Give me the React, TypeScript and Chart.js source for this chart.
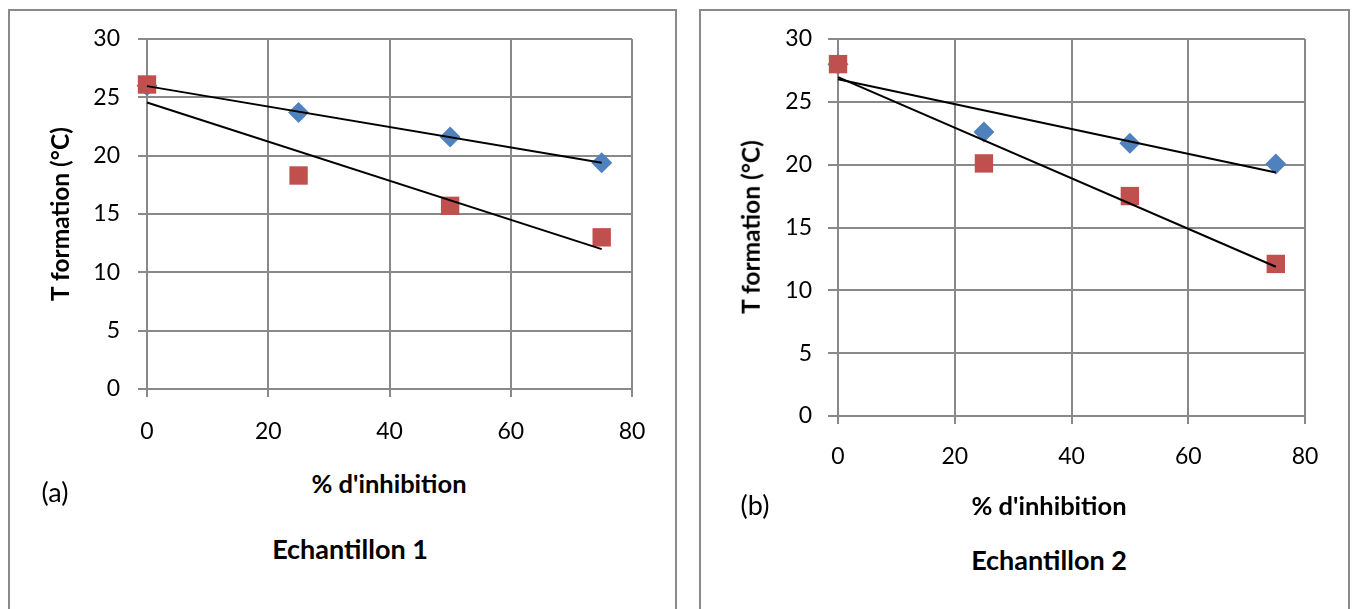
import React, { useEffect, useRef } from "react";
import { Chart, registerables } from "chart.js";

Chart.register(...registerables);

const X_VALUES = [0, 25, 50, 75];
const E1_BLUE = [26.0, 23.7, 21.6, 19.4];
const E1_RED = [26.1, 18.3, 15.7, 13.0];
const E2_BLUE = [28.0, 22.6, 21.7, 20.05];
const E2_RED = [28.0, 20.1, 17.5, 12.1];

const X_MIN = 0;
const X_MAX = 80;
const X_STEP = 20;
const Y_MIN = 0;
const Y_MAX = 30;
const Y_STEP = 5;

const BLUE = "#4F81BD";
const RED = "#C0504D";
const GRID = "#898989";
const FONT = "Lato, 'Open Sans', sans-serif";

function regression(xs: number[], ys: number[]) {
  const n = xs.length;
  const mx = xs.reduce((a, b) => a + b, 0) / n;
  const my = ys.reduce((a, b) => a + b, 0) / n;
  let sxy = 0;
  let sxx = 0;
  for (let i = 0; i < n; i++) {
    sxy += (xs[i] - mx) * (ys[i] - my);
    sxx += (xs[i] - mx) * (xs[i] - mx);
  }
  const slope = sxy / sxx;
  const icpt = my - slope * mx;
  const x0 = Math.min(...xs);
  const x1 = Math.max(...xs);
  return [
    { x: x0, y: icpt + slope * x0 },
    { x: x1, y: icpt + slope * x1 },
  ];
}

type Geo = {
  width: number;
  height: number;
  yAxisWidth: number;
  xAxisHeight: number;
  padTop: number;
  padRight: number;
  yTickLen: number;
  xTickLen: number;
  yPad: number;
  xPad: number;
};

function ScatterChart({ blue, red, geo }: { blue: number[]; red: number[]; geo: Geo }) {
  const ref = useRef<HTMLCanvasElement | null>(null);
  useEffect(() => {
    if (!ref.current) return;
    const pts = (ys: number[]) => X_VALUES.map((x, i) => ({ x, y: ys[i] }));
    const chart = new Chart(ref.current, {
      type: "scatter",
      data: {
        datasets: [
          {
            label: "trend blue",
            data: regression(X_VALUES, blue),
            showLine: true,
            borderColor: "#000000",
            borderWidth: 2,
            pointRadius: 0,
            clip: false,
            order: 0,
          },
          {
            label: "trend red",
            data: regression(X_VALUES, red),
            showLine: true,
            borderColor: "#000000",
            borderWidth: 2,
            pointRadius: 0,
            clip: false,
            order: 0,
          },
          {
            label: "red",
            data: pts(red),
            pointStyle: "rect",
            pointRadius: 13,
            backgroundColor: RED,
            borderColor: RED,
            borderWidth: 0,
            clip: false,
            order: 1,
          },
          {
            label: "blue",
            data: pts(blue),
            pointStyle: "rectRot",
            pointRadius: 10.5,
            backgroundColor: BLUE,
            borderColor: BLUE,
            borderWidth: 0,
            clip: false,
            order: 2,
          },
        ],
      },
      options: {
        animation: false,
        responsive: false,
        maintainAspectRatio: false,
        layout: { padding: { top: geo.padTop, right: geo.padRight, left: 0, bottom: 0 } },
        plugins: { legend: { display: false }, tooltip: { enabled: false } },
        scales: {
          x: {
            type: "linear",
            min: X_MIN,
            max: X_MAX,
            ticks: { stepSize: X_STEP, color: "#000", font: { family: FONT, size: 23 }, padding: geo.xPad },
            grid: { color: GRID, lineWidth: 2, tickLength: geo.xTickLen, drawTicks: true },
            border: { color: GRID, width: 2 },
            afterFit: (s: any) => {
              s.height = geo.xAxisHeight;
              s.paddingLeft = 0;
              s.paddingRight = 0;
            },
          },
          y: {
            type: "linear",
            min: Y_MIN,
            max: Y_MAX,
            ticks: { stepSize: Y_STEP, color: "#000", font: { family: FONT, size: 23 }, padding: geo.yPad },
            grid: { color: GRID, lineWidth: 2, tickLength: geo.yTickLen, drawTicks: true },
            border: { color: GRID, width: 2 },
            afterFit: (s: any) => {
              s.width = geo.yAxisWidth;
              s.paddingTop = 0;
              s.paddingBottom = 0;
            },
          },
        },
      },
    } as any);
    return () => chart.destroy();
  }, []);
  return <canvas ref={ref} width={geo.width} height={geo.height} style={{ width: geo.width, height: geo.height, display: "block" }} />;
}

const abs = (left: number, top: number): React.CSSProperties => ({
  position: "absolute",
  left,
  top,
  transform: "translate(-50%, -50%)",
  whiteSpace: "nowrap",
  fontFamily: FONT,
  color: "#000",
  lineHeight: 1,
});

export default function App() {
  const geoA: Geo = {
    width: 600,
    height: 440,
    yAxisWidth: 77,
    xAxisHeight: 71,
    padTop: 19,
    padRight: 38,
    yTickLen: 9,
    xTickLen: 8,
    yPad: 18,
    xPad: 21,
  };
  const geoB: Geo = {
    width: 590,
    height: 480,
    yAxisWidth: 78,
    xAxisHeight: 84,
    padTop: 19,
    padRight: 45,
    yTickLen: 10,
    xTickLen: 8,
    yPad: 16,
    xPad: 19,
  };
  const boxStyle = (left: number, width: number): React.CSSProperties => ({
    position: "absolute",
    left,
    top: 9,
    width,
    height: 640,
    border: "2px solid #8a8a8a",
    boxSizing: "border-box",
  });
  const yTitle: React.CSSProperties = { fontWeight: 700, fontSize: 24.5 };
  const xTitle: React.CSSProperties = { fontWeight: 700, fontSize: 25.5 };
  const sTitle: React.CSSProperties = { fontWeight: 700, fontSize: 27 };
  return (
    <div style={{ position: "absolute", left: 0, top: 0, width: 1352, height: 609, overflow: "hidden", background: "#fff" }}>
      <div style={boxStyle(8, 669)} />
      <div style={boxStyle(699, 651)} />
      <div style={{ position: "absolute", left: 70, top: 20 }}>
        <ScatterChart blue={E1_BLUE} red={E1_RED} geo={geoA} />
      </div>
      <div style={{ position: "absolute", left: 760, top: 20 }}>
        <ScatterChart blue={E2_BLUE} red={E2_RED} geo={geoB} />
      </div>
      <div style={{ ...abs(60, 214), ...yTitle, transform: "translate(-50%, -50%) rotate(-90deg)" }}>T formation (°C)</div>
      <div style={{ ...abs(389, 484), ...xTitle }}>% d'inhibition</div>
      <div style={{ ...abs(55, 491), fontSize: 27 }}>(a)</div>
      <div style={{ ...abs(350, 548), ...sTitle }}>Echantillon 1</div>
      <div style={{ ...abs(751, 227), ...yTitle, transform: "translate(-50%, -50%) rotate(-90deg)" }}>T formation (°C)</div>
      <div style={{ ...abs(1049, 506), ...xTitle }}>% d'inhibition</div>
      <div style={{ ...abs(755, 504), fontSize: 27 }}>(b)</div>
      <div style={{ ...abs(1049, 559), ...sTitle }}>Echantillon 2</div>
    </div>
  );
}
